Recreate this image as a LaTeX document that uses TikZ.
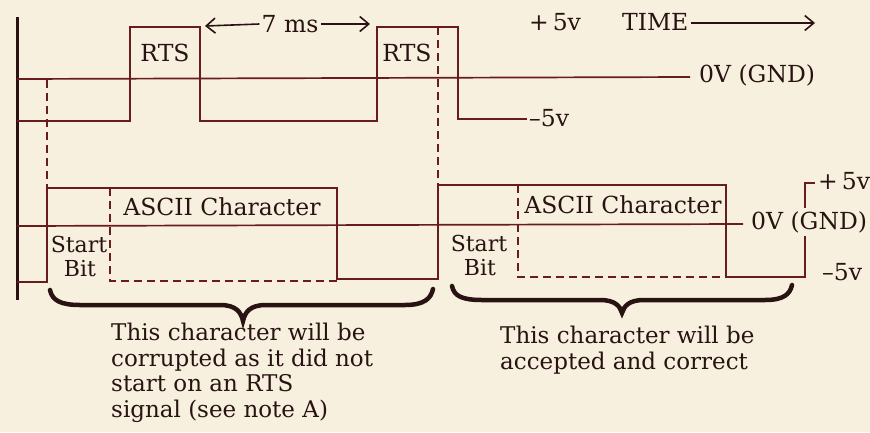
\documentclass[tikz,border=0pt]{standalone}
\usepackage{fontspec}
\setmainfont{DejaVu Serif}
\usetikzlibrary{arrows.meta}
\definecolor{bg}{RGB}{248,240,222}
\definecolor{ink}{RGB}{105,28,28}
\definecolor{txt}{RGB}{40,18,18}
\tikzset{
  sig/.style={draw=ink, line width=1.7pt, line join=miter},
  dsh/.style={draw=ink, line width=1.7pt, dash pattern=on 8pt off 5pt},
  axis/.style={draw=txt, line width=3pt},
  lbl/.style={text=txt, inner sep=0pt, font=\fontsize{23.5}{26}\selectfont},
  sml/.style={text=txt, inner sep=0pt, font=\fontsize{22}{24}\selectfont},
  body/.style={text=txt, inner sep=0pt, align=left, font=\fontsize{23}{25.5}\selectfont},
  brc/.style={draw=txt, line width=4.5pt, line cap=round},
  barb/.style={draw=txt, line width=1.6pt, -{Straight Barb[length=9pt,width=15pt,line width=1.6pt]}}
}
\begin{document}
\begin{tikzpicture}[x=1pt,y=-1pt]
\useasboundingbox[fill=bg] (0,0) rectangle (870,432);
% axis
\draw[axis] (17,17) -- (17,300);
% top RTS signal
\draw[sig] (17,79) -- (690,77);
\draw[sig] (17,121) -- (130,121) -- (130,27) -- (200,27) -- (200,121) -- (377,121) -- (377,27) -- (458,27) -- (458,119) -- (527,119);
\draw[dsh] (47,80) -- (47,188);
\draw[dsh] (438,27) -- (438,185);
\node[lbl] (rts1) at (165,53) {RTS};
\node[lbl] (rts2) at (407,53) {RTS};
\node[lbl] (ms) at (290,24) {7 ms};
\draw[barb] (ms.west) ++(-2,0) -- (205,26);
\draw[barb] (ms.east) ++(2,0) -- (370,24);
\node[lbl, anchor=west] (p5a) at (529,22) {+\,5v};
\node[lbl, anchor=west] (m5a) at (529,118) {–5v};
\node[lbl, anchor=west] (gnda) at (699,75) {0V (GND)};
\node[lbl, anchor=west] (time) at (622,22) {TIME};
\draw[barb] (time.east) ++(2,1) -- (815,23);
% bottom data signal
\draw[sig] (17,226) -- (743,224);
\draw[sig] (17,282) -- (47,282) -- (47,188) -- (337,188) -- (337,279) -- (438,279) -- (438,185) -- (726,185) -- (726,277) -- (805,277) -- (805,183) -- (815,183);
\draw[dsh] (110,188) -- (110,281) -- (337,281);
\draw[dsh] (518,185) -- (518,277) -- (726,277);
\node[lbl] (asc1) at (222,207) {ASCII Character};
\node[lbl] (asc2) at (623,205) {ASCII Character};
\node[sml] (st1) at (79,244) {Start};
\node[sml] (bt1) at (80,269) {Bit};
\node[sml] (st2) at (479,243) {Start};
\node[sml] (bt2) at (480,268) {Bit};
\node[lbl, anchor=west] (p5b) at (818,181) {+\,5v};
\node[lbl, anchor=west, fill=bg, inner xsep=2pt, inner ysep=3pt] (gndb) at (749,222) {0V (GND)};
\node[lbl, anchor=west] (m5b) at (822,272) {–5v};
% braces
\draw[brc] (50,290) .. controls (52,300) and (60,305) .. (80,305) -- (220,305) .. controls (236,305) and (241,312) .. (243,321) .. controls (245,312) and (250,305) .. (266,305) -- (405,305) .. controls (425,305) and (431,298) .. (433,289);
\draw[brc] (452,286) .. controls (454,296) and (462,300) .. (482,300) -- (600,300) .. controls (615,300) and (620,306) .. (622,313) .. controls (624,306) and (629,300) .. (644,300) -- (765,300) .. controls (784,300) and (790,294) .. (792,285);
% captions
\node[body, anchor=north west] (cap1) at (111,323) {This character will be\\corrupted as it did not\\start on an RTS\\signal (see note A)};
\node[body, anchor=north west] (cap2) at (500,326) {This character will be\\accepted and correct};
\end{tikzpicture}
\end{document}
